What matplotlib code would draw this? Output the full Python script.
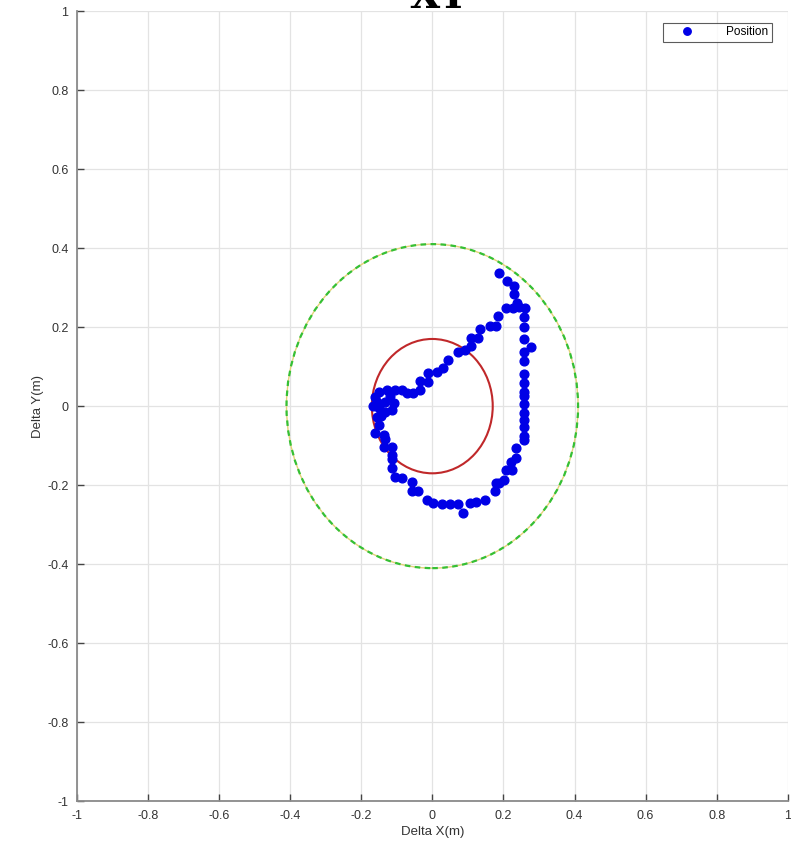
import matplotlib
matplotlib.use("Agg")
import matplotlib.pyplot as plt
from matplotlib.patches import Circle
import numpy as np

plt.rcParams['font.family'] = ['Liberation Sans', 'DejaVu Sans']

# Position samples (Delta X, Delta Y) in metres
pos_x = [0.189, 0.209, 0.231, 0.229, 0.238, 0.208, 0.226, 0.245, 0.261, 0.184,
         0.180, 0.161, 0.133, 0.128, 0.110, 0.110, 0.091, 0.071, 0.043, 0.031,
         0.012, -0.011, -0.013, -0.034, -0.034, -0.053, -0.072, -0.086, -0.104, -0.128,
         -0.151, -0.162, -0.156, -0.132, -0.109, -0.114, -0.132, -0.143, -0.156, -0.151,
         -0.160, -0.137, -0.132, -0.137, -0.114, -0.114, -0.114, -0.114, -0.104, -0.086,
         -0.058, -0.058, -0.039, -0.016, 0.003, 0.026, 0.049, 0.073, 0.087, 0.105,
         0.124, 0.147, 0.175, 0.180, 0.187, 0.203, 0.208, 0.223, 0.222, 0.235,
         0.235, 0.257, 0.257, 0.257, 0.257, 0.257, 0.257, 0.257, 0.257, 0.257,
         0.257, 0.257, 0.257, 0.257, 0.257, 0.257, 0.277, -0.168, -0.150, -0.120]
pos_y = [0.337, 0.316, 0.305, 0.284, 0.260, 0.248, 0.248, 0.250, 0.248, 0.227,
         0.204, 0.204, 0.194, 0.172, 0.172, 0.152, 0.141, 0.138, 0.117, 0.096,
         0.086, 0.084, 0.061, 0.063, 0.040, 0.034, 0.032, 0.040, 0.040, 0.040,
         0.036, 0.023, 0.011, 0.011, 0.009, -0.011, -0.015, -0.025, -0.027, -0.047,
         -0.069, -0.072, -0.082, -0.103, -0.103, -0.124, -0.135, -0.156, -0.179, -0.183,
         -0.191, -0.214, -0.214, -0.238, -0.246, -0.248, -0.248, -0.248, -0.271, -0.246,
         -0.242, -0.238, -0.216, -0.195, -0.194, -0.187, -0.162, -0.162, -0.141, -0.131,
         -0.107, -0.086, -0.075, -0.052, -0.034, -0.017, 0.005, 0.026, 0.037, 0.059,
         0.082, 0.115, 0.138, 0.170, 0.201, 0.225, 0.149, 0.000, -0.005, 0.025]

# Circle radii (m)
inner_radius = 0.17
outer_radius = 0.41

ticks = [-1, -0.8, -0.6, -0.4, -0.2, 0, 0.2, 0.4, 0.6, 0.8, 1]
tick_labels = ['-1', '-0.8', '-0.6', '-0.4', '-0.2', '0', '0.2', '0.4', '0.6', '0.8', '1']

fig = plt.figure(figsize=(7.91, 8.47), dpi=100)
ax = fig.add_axes([0.097, 0.054, 0.899, 0.933])

ax.set_xlim(-1, 1)
ax.set_ylim(-1, 1)
ax.set_xticks(ticks)
ax.set_yticks(ticks)
ax.set_xticklabels(tick_labels)
ax.set_yticklabels(tick_labels)
ax.grid(True, color='#e3e3e3', linewidth=0.9)
ax.set_axisbelow(True)
for s in ['top', 'right']:
    ax.spines[s].set_visible(False)
for s in ['left', 'bottom']:
    ax.spines[s].set_color('#8a8a8a')
    ax.spines[s].set_linewidth(1.3)
ax.tick_params(direction='in', length=5, width=1, color='#444444',
               labelsize=9, labelcolor='#333333', pad=6)

# outer circle: yellow solid under green dashes
ax.add_patch(Circle((0, 0), outer_radius, fill=False, edgecolor='#e3d27a', linewidth=1.0, zorder=2))
ax.add_patch(Circle((0, 0), outer_radius, fill=False, edgecolor='#35c035', linewidth=1.6,
                    linestyle=(0, (2.5, 2)), zorder=3))
# inner circle
ax.add_patch(Circle((0, 0), inner_radius, fill=False, edgecolor='#c0282a', linewidth=1.5, zorder=4))

ax.plot(pos_x, pos_y, linestyle='none', marker='o', markersize=6.3, color='#0000e6',
        markeredgecolor='#0000e6', label='Position', zorder=5)

leg = ax.legend(loc='upper right', bbox_to_anchor=(0.981, 0.988), fontsize=8.5,
                frameon=True, fancybox=False, edgecolor='#333333', borderpad=0.3,
                handlelength=3.6, handletextpad=1.5, markerscale=0.85, borderaxespad=0.2)
leg.get_frame().set_linewidth(0.8)

ax.set_xlabel('Delta X(m)', fontsize=9.5, color='#333333', labelpad=3)
ax.set_ylabel('Delta Y(m)', fontsize=9.5, color='#333333', labelpad=2)

fig.text(0.555, 1 - 8.5 / 847, 'XY', ha='center', va='baseline', fontsize=28, fontweight='bold',
         family='DejaVu Serif')

fig.savefig('out.png', dpi=100)
